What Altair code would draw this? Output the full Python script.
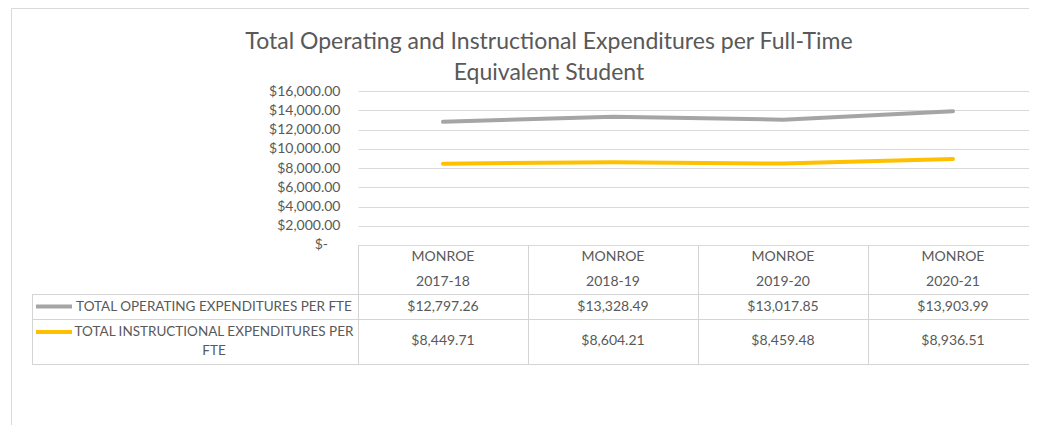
import altair as alt
import pandas as pd

# ---- data ----
years = ["2017-18", "2018-19", "2019-20", "2020-21"]
district = "MONROE"
series = ["TOTAL OPERATING EXPENDITURES PER FTE",
          "TOTAL INSTRUCTIONAL EXPENDITURES PER FTE"]
operating = [12797.26, 13328.49, 13017.85, 13903.99]
instructional = [8449.71, 8604.21, 8459.48, 8936.51]
colors = ["#A5A5A5", "#FFC000"]
y_ticks = [0, 2000, 4000, 6000, 8000, 10000, 12000, 14000, 16000]
zero_label = "$-"
title_text = "Total Operating and Instructional Expenditures per Full-Time\nEquivalent Student"

# ---- layout constants ----
W, H = 671, 154
COLS = 680                     # width spanned by the four table columns
PAD = {"left": 350, "top": 83, "right": 0, "bottom": 180}
FONT = "Lato"
TXT = "#595959"
GRID = "#D9D9D9"
TBL = "#D4D4D4"
LABEL_X = -144          # centre of the row-label column
TABLE_LEFT = -326
ROW_TOPS = [203, 228, 273]   # horizontal table borders
Y_HDR1, Y_HDR2, Y_ROW1, Y_ROW2 = 166, 191, 216, 250

rows = []
for s, vals in zip(series, [operating, instructional]):
    for yr, v in zip(years, vals):
        rows.append({"series": s, "year": yr, "value": v, "district": district})
df = pd.DataFrame(rows)
hdr = pd.DataFrame({"year": years, "district": [district] * len(years)})
lab = pd.DataFrame({"series": series})
one = pd.DataFrame({"k": [0]})
ttl = pd.DataFrame({"t": [title_text]})
zdf = pd.DataFrame({"value": [0], "t": [zero_label]})

xenc = alt.X("year:N", sort=years,
             scale=alt.Scale(type="point", domain=years, padding=0.5, range=[0, COLS]),
             axis=None)
cenc = alt.Color("series:N", scale=alt.Scale(domain=series, range=colors), legend=None)
yscale = alt.Scale(domain=[0, 16000], nice=False, zero=True)
label_expr = "datum.value == 0 ? '' : format(datum.value, '$,.2f')"
yaxis = alt.Axis(values=y_ticks, labelExpr=label_expr, grid=True, ticks=False,
                 domain=False, labelPadding=18, labelFont=FONT, labelFontSize=14,
                 labelColor=TXT, gridColor=GRID, gridWidth=1, title=None,
                 labelOverlap=False)
yenc = alt.Y("value:Q", scale=yscale, axis=yaxis)

lines = alt.Chart(df).mark_line(strokeWidth=4, strokeCap="round").encode(
    x=xenc, y=yenc, color=cenc, order=alt.Order("year:N"))

# accounting-style zero label ("$-" sits left of the other labels)
zero = alt.Chart(zdf).mark_text(align="right").encode(
    x=alt.value(-30), y=yenc, text="t:N")

title = alt.Chart(ttl).mark_text(fontSize=23, lineBreak="\n", lineHeight=31).encode(
    x=alt.value(191), y=alt.value(-49), text="t:N")

hdr1 = alt.Chart(hdr).mark_text().encode(x=xenc, y=alt.value(Y_HDR1), text="district:N")
hdr2 = alt.Chart(hdr).mark_text().encode(x=xenc, y=alt.value(Y_HDR2), text="year:N")

val1 = alt.Chart(df).transform_filter(alt.datum.series == series[0]).mark_text().encode(
    x=xenc, y=alt.value(Y_ROW1), text=alt.Text("value:Q", format="$,.2f"))
val2 = alt.Chart(df).transform_filter(alt.datum.series == series[1]).mark_text().encode(
    x=xenc, y=alt.value(Y_ROW2), text=alt.Text("value:Q", format="$,.2f"))

lab1 = alt.Chart(lab).transform_filter(alt.datum.series == series[0]).mark_text(
    fontSize=13.5).encode(x=alt.value(LABEL_X), y=alt.value(Y_ROW1), text="series:N")
lab2 = alt.Chart(lab).transform_filter(alt.datum.series == series[1]).transform_calculate(
    wrapped="replace(datum.series, 'PER FTE', 'PER\\nFTE')"
).mark_text(fontSize=13.5, lineBreak="\n", lineHeight=18.5).encode(
    x=alt.value(LABEL_X), y=alt.value(241), text="wrapped:N")

key1 = alt.Chart(lab).transform_filter(alt.datum.series == series[0]).mark_rule(
    strokeWidth=4).encode(x=alt.value(-322), x2=alt.value(-286), y=alt.value(215.5), color=cenc)
key2 = alt.Chart(lab).transform_filter(alt.datum.series == series[1]).mark_rule(
    strokeWidth=4).encode(x=alt.value(-322), x2=alt.value(-286), y=alt.value(241), color=cenc)

borders = []
for yy in ROW_TOPS:
    borders.append(alt.Chart(one).mark_rule(color=TBL, strokeWidth=1).encode(
        x=alt.value(TABLE_LEFT), x2=alt.value(W + 5), y=alt.value(yy + 0.5)))
borders.append(alt.Chart(one).mark_rule(color=TBL, strokeWidth=1).encode(
    x=alt.value(TABLE_LEFT + 0.5), y=alt.value(ROW_TOPS[0]), y2=alt.value(ROW_TOPS[-1] + 0.5)))
for i in range(len(years)):
    xx = round(i * COLS / len(years)) + 0.5
    borders.append(alt.Chart(one).mark_rule(color=TBL, strokeWidth=1).encode(
        x=alt.value(xx), y=alt.value(H), y2=alt.value(ROW_TOPS[-1] + 0.5)))

frame = [
    alt.Chart(one).mark_rule(color=GRID, strokeWidth=1).encode(
        x=alt.value(-346.5), y=alt.value(-PAD["top"] + 0.5), y2=alt.value(H + PAD["bottom"])),
    alt.Chart(one).mark_rule(color=GRID, strokeWidth=1).encode(
        x=alt.value(-346.5), x2=alt.value(W + 5), y=alt.value(-PAD["top"] + 0.5)),
]

chart = alt.layer(
    *frame, *borders, lines, zero, title, hdr1, hdr2, val1, val2, lab1, lab2, key1, key2
).properties(
    width=W, height=H,
    autosize=alt.AutoSizeParams(type="none"),
    padding=PAD,
).configure_view(stroke=None).configure_text(
    font=FONT, fontSize=14, color=TXT, baseline="middle", align="center"
)

chart.save("out.html", embed_options={"renderer": "svg", "actions": False})
